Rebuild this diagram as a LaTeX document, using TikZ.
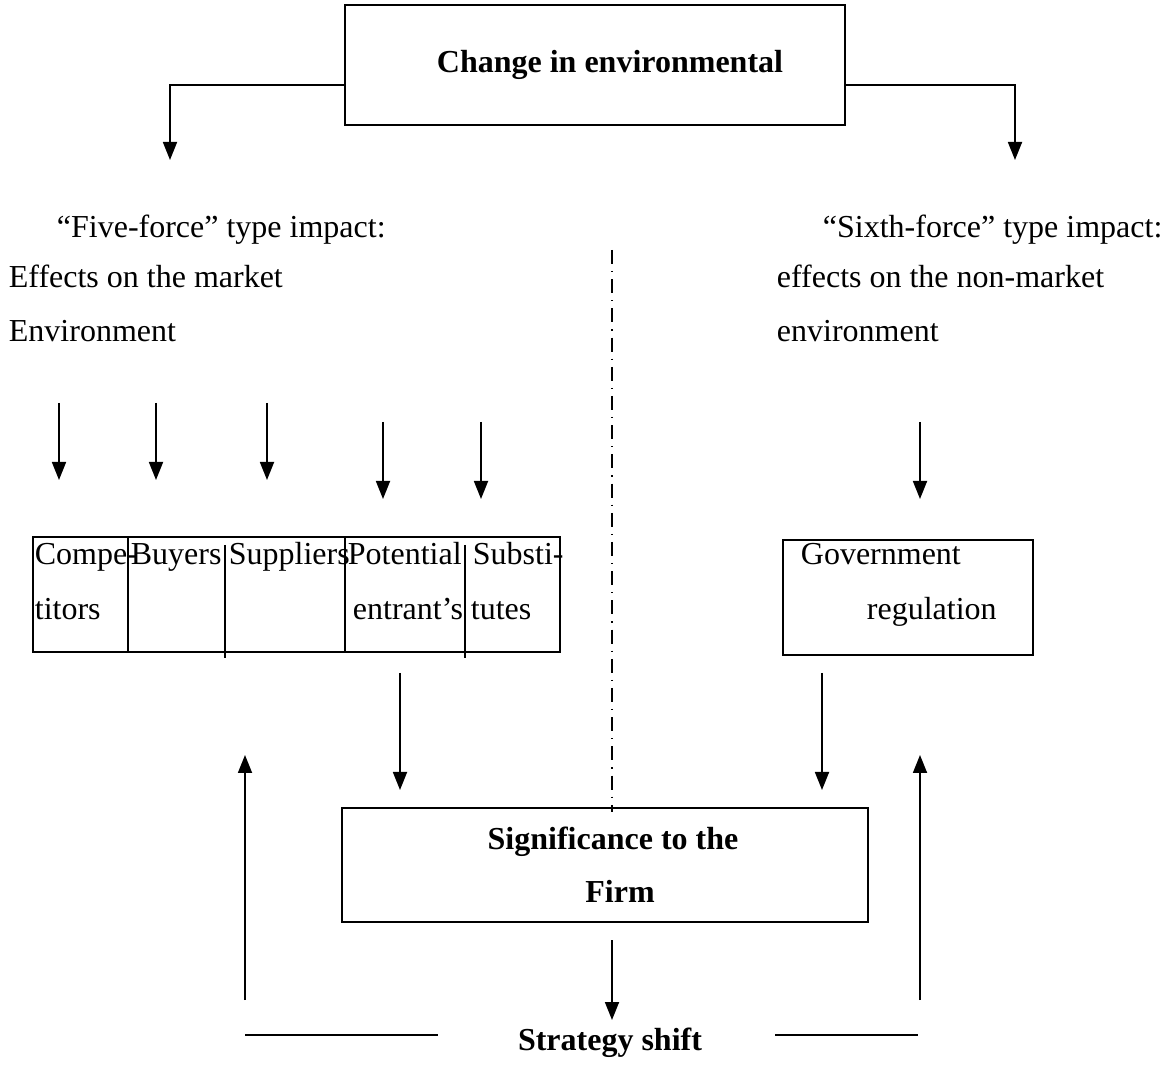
\documentclass[tikz,border=0pt]{standalone}
\usepackage{fontspec}
\setmainfont{Liberation Serif}
\usetikzlibrary{arrows.meta}
\tikzset{
  arr/.style={-{Triangle[width=7pt,length=9pt]}},
  txt/.style={anchor=base west, inner sep=0pt},
  boxnode/.style={draw, inner sep=0pt},
  dashdotline/.style={dash pattern=on 7pt off 3.5pt on 0.6pt off 3.5pt, line width=0.7pt}
}
\begin{document}
\fontsize{16}{26.5}\selectfont
\begin{tikzpicture}[x=0.5pt, y=-0.5pt, line width=0.9pt]
\useasboundingbox (0,0) rectangle (1167,1068);

%Change in environmental
\node [boxnode, minimum width=250pt, minimum height=60pt, font=\bfseries] (change) at (595,65) {\hspace*{15pt}Change in environmental};
\coordinate (fivehead) at (170,160);
\coordinate (sixhead) at (1015,160);
\draw [arr] (change.west |- 0,85) -| (fivehead);
\draw [arr] (change.east |- 0,85) -| (sixhead);

%Five-force side
\node [txt] (five)   at (56,238)  {“Five-force” type impact:};
\node [txt] (market) at (8,288)   {Effects on the market};
\node [txt] (menv)   at (8,342)   {Environment};
\foreach \x/\y in {59/403,156/403,267/403,383/422,481/422}
  \draw [arr] (\x,\y) -- ++(0,77);

%Sixth-force side
\node [txt] (six)     at (822,238) {“Sixth-force” type impact:};
\node [txt] (nmarket) at (776,288) {effects on the non-market};
\node [txt] (nmenv)   at (776,342) {environment};
\draw [arr] (920,422) -- ++(0,77);

%Divider
\draw [dashdotline] (612,250) -- (612,812);

%Five forces row
\node [boxnode, minimum width=263.5pt, minimum height=57.5pt] (forces) at (296.5,594.5) {};
\draw (128,537) -- (128,652);
\draw (345,537) -- (345,652);
\draw (225,545) -- (225,658);
\draw (465,545) -- (465,658);
\node [txt] (compe)  at (34,565)  {Compe-};
\node [txt] (buyers) at (130,565) {Buyers};
\node [txt] (suppl)  at (228,565) {Suppliers};
\node [txt] (poten)  at (347,565) {Potential};
\node [txt] (subst)  at (472,565) {Substi-};
\node [txt] (titors) at (34,620)  {titors};
\node [txt] (entra)  at (352,620) {entrant’s};
\node [txt] (tutes)  at (470,620) {tutes};

%Government regulation
\node [boxnode, minimum width=125pt, minimum height=57.5pt] (gov) at (908,597.5) {};
\node [txt] (govt) at (800,565) {Government};
\node [txt] (regu) at (866,620) {regulation};

%Significance to the Firm
\node [boxnode, minimum width=263pt, minimum height=57pt, align=center, font=\bfseries] (sig) at (605,865) {\hspace*{8pt}Significance to the\\\hspace*{15pt}Firm};
\draw [arr] (400,673) -- (400,790);
\draw [arr] (822,673) -- (822,790);

%Strategy shift
\node [anchor=base, inner sep=0pt, font=\bfseries] (shift) at (610,1050) {Strategy shift};
\draw [arr] (612,940) -- (612,1020);
\draw (245,1035) -- (438,1035);
\draw (775,1035) -- (918,1035);
\draw [arr] (245,1000) -- (245,755);
\draw [arr] (920,1000) -- (920,755);
\end{tikzpicture}
\end{document}
